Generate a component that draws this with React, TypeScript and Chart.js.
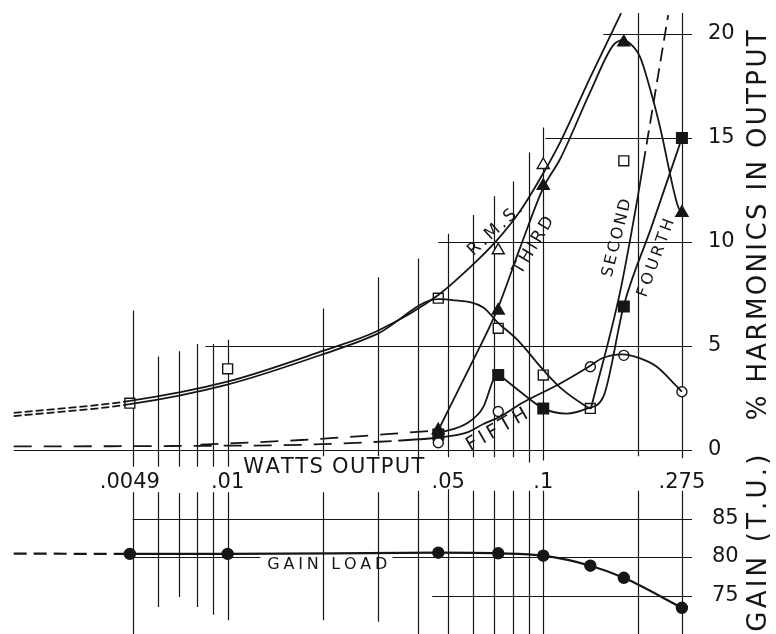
import React, { useEffect, useRef } from 'react';
import { Chart, registerables } from 'chart.js';
Chart.register(...registerables);

const FONT = '"DejaVu Sans", "Liberation Sans", sans-serif';
const INK = '#161616';

// ---- axes ----
const wattMin = 0.0019;
const wattMax = 0.296;
const wattTicks = [0.0049, 0.01, 0.05, 0.1, 0.275];
const wattTickLabels = ['.0049', '.01', '.05', '.1', '.275'];
const harmonicTicks = [0, 5, 10, 15, 20];
const gainTicks = [75, 80, 85];

// ---- measured points (watts output) ----
const markW = [0.0049, 0.01, 0.0465, 0.072, 0.1, 0.141, 0.18, 0.275];
const secondMarks = [2.25, 3.9, 7.3, 5.85, 3.6, 2.0, 13.9, null];
const thirdMarks = [null, null, 0.95, 6.7, 12.7, null, 19.6, 11.4];
const fourthMarks = [null, null, 0.75, 3.6, 2.0, null, 6.9, 15.0];
const fifthMarks = [null, null, 0.35, 1.85, null, 4.0, 4.55, 2.8];
const rmsMarks = [null, null, null, 9.6, 13.7, null, null, null];
const gainMarks = [80.4, 80.4, 80.56, 80.48, 80.17, 78.87, 77.3, 73.4];

// ---- faired curves ----
const rmsCurveW = [0.0021, 0.0049, 0.0099, 0.02, 0.0298, 0.0465, 0.0588, 0.0715, 0.0846, 0.1, 0.1132, 0.1408, 0.1765];
const rmsCurveV = [1.78, 2.36, 3.27, 4.76, 5.72, 7.45, 8.8, 10.1, 11.5, 13.3, 14.8, 17.9, 21.0];

const secondFallW = [0.0021, 0.0049, 0.0099, 0.02, 0.0298, 0.0465, 0.051, 0.0646, 0.0715, 0.0827, 0.1, 0.1132, 0.1378, 0.1415];
const secondFallV = [1.63, 2.2, 3.13, 4.6, 5.58, 7.25, 7.22, 6.85, 6.15, 5.3, 3.85, 3.0, 2.07, 1.98];
const secondRiseW = [0.1415, 0.1752, 0.1984, 0.2072, 0.2488];
const secondRiseV = [1.98, 7.6, 12.0, 13.7, 20.9];

const thirdTailW = [0.0082, 0.0171, 0.0347, 0.0465];
const thirdTailV = [0.26, 0.48, 0.8, 0.95];
const thirdCurveW = [0.0465, 0.0579, 0.0715, 0.0846, 0.1, 0.1132, 0.1408, 0.1665, 0.1795, 0.1925, 0.2026, 0.2213, 0.2346, 0.2673, 0.275];
const thirdCurveV = [0.95, 3.85, 6.75, 9.75, 12.6, 14.0, 17.2, 19.45, 19.7, 19.4, 18.9, 17.0, 15.5, 11.7, 11.4];

const fourthRiseW = [0.0465, 0.0575, 0.0646, 0.0695, 0.072];
const fourthRiseV = [0.82, 1.3, 2.07, 3.37, 3.65];
const fourthFallW = [0.072, 0.0846, 0.1, 0.1185, 0.138, 0.1549, 0.18, 0.22, 0.275];
const fourthFallV = [3.65, 2.8, 2.0, 1.75, 2.0, 2.55, 6.95, 10.7, 15.0];

const fifthCurveW = [0.0021, 0.0082, 0.0171, 0.0347, 0.0465, 0.0575, 0.0646, 0.073, 0.0857, 0.1132, 0.141, 0.153, 0.178, 0.203, 0.229, 0.252, 0.275];
const fifthCurveV = [0.17, 0.2, 0.25, 0.45, 0.6, 0.85, 1.25, 1.6, 2.26, 3.2, 4.05, 4.4, 4.6, 4.4, 4.0, 3.4, 2.8];

const gainCurveW = [0.0021, 0.0049, 0.01, 0.0465, 0.072, 0.1, 0.141, 0.18, 0.275];
const gainCurveV = [80.45, 80.4, 80.4, 80.56, 80.48, 80.17, 78.87, 77.3, 73.4];

// ---- hand-drawn grid (data units: [x, yFrom, yTo] and [y, xFrom, xTo]) ----
const upperVGrid = [
  [0.005, -0.8, 6.7], [0.006, -0.8, 4.5], [0.007, -0.8, 4.75], [0.008, -0.8, 5.1],
  [0.009, -0.8, 5.1], [0.01, -0.8, 5.3], [0.02, -0.3, 6.8], [0.03, -0.3, 8.3],
  [0.04, -0.35, 9.2], [0.05, -0.35, 10.4], [0.06, -0.35, 11.3], [0.07, -0.35, 12.2],
  [0.08, -0.35, 12.9], [0.09, -0.6, 14.3], [0.1, -0.5, 15.5], [0.2, -0.3, 21.0], [0.275, -0.4, 21.0],
];
const upperHGrid = [
  [0, 0.0021, wattMax], [5, 0.0085, wattMax], [10, 0.0465, wattMax], [15, 0.1015, wattMax], [20, 0.155, wattMax],
];
const lowerVGrid = [
  [0.005, 70, 88.4], [0.006, 73.5, 88.4], [0.007, 74.8, 88.3], [0.008, 73.5, 88.4],
  [0.009, 72.5, 88.4], [0.01, 71.8, 88.4], [0.02, 71.8, 88.4], [0.03, 71.6, 88.4],
  [0.04, 70, 88.6], [0.05, 70, 88.8], [0.06, 70, 88.6], [0.07, 70, 88.6], [0.08, 70, 88.6],
  [0.09, 70, 88.6], [0.1, 70, 88.6], [0.2, 70, 88.6], [0.275, 70, 88.6],
];
const lowerHGrid = [
  [85, 0.005, wattMax], [80, 0.005, 0.0127], [80, 0.0333, wattMax], [75, 0.0445, wattMax],
];

const pts = (w: number[], v: (number | null)[]) =>
  w.map((x, i) => ({ x, y: v[i] })).filter((p) => p.y !== null) as { x: number; y: number }[];

function drawSpaced(ctx: CanvasRenderingContext2D, text: string, cx: number, cy: number, angle: number, size: number, length: number) {
  ctx.save();
  ctx.font = `${size}px ${FONT}`;
  ctx.fillStyle = INK;
  ctx.translate(cx, cy);
  ctx.rotate((angle * Math.PI) / 180);
  const chars = [...text];
  const widths = chars.map((c) => ctx.measureText(c).width);
  const natural = widths.reduce((a, b) => a + b, 0);
  const gap = chars.length > 1 ? (length - natural) / (chars.length - 1) : 0;
  let x = -length / 2;
  ctx.textBaseline = 'middle';
  ctx.textAlign = 'left';
  chars.forEach((c, i) => {
    ctx.fillText(c, x, 0);
    x += widths[i] + gap;
  });
  ctx.restore();
}

type Lbl = { text: string; x: number; y: number; angle: number; size: number; length: number };
type Ttl = { text: string; dx: number; y: number; size: number; length: number };

function makeDrafting(vGrid: number[][], hGrid: number[][], labels: Lbl[], titles: Ttl[]) {
  return {
    id: 'drafting',
    beforeDatasetsDraw(chart: any) {
      const ctx = chart.ctx as CanvasRenderingContext2D;
      const xs = chart.scales.x;
      const ys = chart.scales.y;
      ctx.save();
      ctx.strokeStyle = INK;
      ctx.lineWidth = 1.2;
      ctx.beginPath();
      for (const [x, y0, y1] of vGrid) {
        const px = Math.round(xs.getPixelForValue(x)) + 0.5;
        ctx.moveTo(px, ys.getPixelForValue(y0));
        ctx.lineTo(px, ys.getPixelForValue(y1));
      }
      for (const [y, x0, x1] of hGrid) {
        const py = Math.round(ys.getPixelForValue(y)) + 0.5;
        ctx.moveTo(xs.getPixelForValue(x0), py);
        ctx.lineTo(xs.getPixelForValue(x1), py);
      }
      ctx.stroke();
      ctx.restore();
    },
    afterDatasetsDraw(chart: any) {
      const ctx = chart.ctx as CanvasRenderingContext2D;
      const xs = chart.scales.x;
      const ys = chart.scales.y;
      for (const l of labels) {
        drawSpaced(ctx, l.text, xs.getPixelForValue(l.x), ys.getPixelForValue(l.y), l.angle, l.size, l.length);
      }
      for (const t of titles) {
        drawSpaced(ctx, t.text, chart.chartArea.right + t.dx, ys.getPixelForValue(t.y), -90, t.size, t.length);
      }
    },
  };
}

const curve = (data: any[], width: number, dash?: ((a: number, b: number) => number[] | undefined) | number[]) => ({
  data,
  showLine: true,
  borderColor: INK,
  borderWidth: width,
  borderDash: Array.isArray(dash) ? dash : [],
  pointRadius: 0,
  pointHoverRadius: 0,
  cubicInterpolationMode: 'monotone' as const,
  fill: false,
  segment:
    typeof dash === 'function' ? { borderDash: (c: any) => dash(c.p0.parsed.x, c.p1.parsed.x) } : undefined,
});

const marks = (data: any[], style: string, filled: boolean, radius: number) => ({
  data,
  showLine: false,
  pointStyle: style,
  pointRadius: radius,
  pointHoverRadius: radius,
  pointBackgroundColor: filled ? INK : '#ffffff',
  pointBorderColor: INK,
  pointBorderWidth: 1.4,
  borderColor: INK,
});

const noPad = (axis: any) => {
  axis.paddingTop = 0;
  axis.paddingBottom = 0;
  axis.paddingLeft = 0;
  axis.paddingRight = 0;
};

export default function App() {
  const topRef = useRef<HTMLCanvasElement>(null);
  const botRef = useRef<HTMLCanvasElement>(null);

  useEffect(() => {
    const xScale = (showLabels: boolean) => ({
      type: 'logarithmic' as const,
      min: wattMin,
      max: wattMax,
      bounds: 'data' as const,
      display: showLabels,
      grid: { display: false },
      border: { display: false },
      afterBuildTicks: (axis: any) => {
        axis.ticks = wattTicks.map((value) => ({ value }));
      },
      afterFit: (axis: any) => {
        axis.height = showLabels ? 45 : 0;
        noPad(axis);
      },
      ticks: {
        autoSkip: false,
        maxRotation: 0,
        minRotation: 0,
        padding: 12,
        color: INK,
        font: { family: FONT, size: 21 },
        callback: (_v: any, i: number) => wattTickLabels[i],
      },
    });

    const yScale = (min: number, max: number, ticks: number[], pad: number) => ({
      type: 'linear' as const,
      position: 'right' as const,
      min,
      max,
      bounds: 'data' as const,
      grid: { display: false },
      border: { display: false },
      afterBuildTicks: (axis: any) => {
        axis.ticks = ticks.map((value) => ({ value }));
      },
      afterFit: (axis: any) => {
        axis.width = 84;
        noPad(axis);
      },
      ticks: { padding: pad, color: INK, font: { family: FONT, size: 21 } },
    });

    const upper = new Chart(topRef.current!, {
      type: 'line',
      data: {
        datasets: [
          curve(pts(rmsCurveW, rmsCurveV), 1.8, (a, b) => (b <= 0.0049 + 1e-9 ? [8, 3] : undefined)),
          curve(pts(secondFallW, secondFallV), 1.8, (a, b) => (b <= 0.0049 + 1e-9 ? [8, 3] : undefined)),
          curve(pts(secondRiseW, secondRiseV), 1.8, (a, b) => (a >= 0.2072 - 1e-9 ? [14, 7] : undefined)),
          curve(pts(thirdTailW, thirdTailV), 1.8, [18, 12]),
          curve(pts(thirdCurveW, thirdCurveV), 1.8),
          curve(pts(fourthRiseW, fourthRiseV), 1.8),
          curve(pts(fourthFallW, fourthFallV), 1.8),
          curve(pts(fifthCurveW, fifthCurveV), 1.8, (a, b) => (b <= 0.0347 + 1e-9 ? [18, 12] : undefined)),
          marks(pts(markW, secondMarks), 'rect', false, 7),
          marks(pts(markW, rmsMarks), 'triangle', false, 7),
          marks(pts(markW, fifthMarks), 'circle', false, 5),
          marks(pts(markW, fourthMarks), 'rect', true, 7.5),
          marks(pts(markW, thirdMarks), 'triangle', true, 7),
        ] as any,
      },
      options: {
        responsive: false,
        animation: false,
        devicePixelRatio: 1,
        layout: { padding: 0, autoPadding: false },
        plugins: { legend: { display: false }, tooltip: { enabled: false } },
        scales: {
          x: xScale(true) as any,
          y: yScale(0, 21.63, harmonicTicks, 8) as any,
        },
      },
      plugins: [
        makeDrafting(
          upperVGrid,
          upperHGrid,
          [
            { text: 'WATTS OUTPUT', x: 0.0217, y: -0.85, angle: 0, size: 21, length: 181 },
            { text: 'R.M.S.', x: 0.0705, y: 10.58, angle: -42.6, size: 17, length: 68 },
            { text: 'THIRD', x: 0.0933, y: 9.83, angle: -59, size: 17, length: 64 },
            { text: 'SECOND', x: 0.1714, y: 10.19, angle: -76, size: 16, length: 80 },
            { text: 'FOURTH', x: 0.2278, y: 9.23, angle: -70, size: 16, length: 82 },
            { text: 'FIFTH', x: 0.0715, y: 0.96, angle: -30, size: 19, length: 68 },
          ],
          [{ text: '% HARMONICS IN OUTPUT', dx: 67, y: 10.8, size: 26, length: 390 }]
        ) as any,
      ],
    });

    const lower = new Chart(botRef.current!, {
      type: 'line',
      data: {
        datasets: [
          curve(pts(gainCurveW, gainCurveV), 2.2, (a, b) => (b <= 0.0049 + 1e-9 ? [13, 7] : undefined)),
          marks(pts(markW, gainMarks), 'circle', true, 5.5),
        ] as any,
      },
      options: {
        responsive: false,
        animation: false,
        devicePixelRatio: 1,
        layout: { padding: { top: 30, bottom: 0, left: 0, right: 0 }, autoPadding: false },
        plugins: { legend: { display: false }, tooltip: { enabled: false } },
        scales: {
          x: xScale(false) as any,
          y: yScale(70, 90, gainTicks, 12) as any,
        },
      },
      plugins: [
        makeDrafting(
          lowerVGrid,
          lowerHGrid,
          [{ text: 'GAIN LOAD', x: 0.0207, y: 79.0, angle: 0, size: 16, length: 120 }],
          [{ text: 'GAIN (T.U.)', dx: 67, y: 81.8, size: 26, length: 177 }]
        ) as any,
      ],
    });

    return () => {
      upper.destroy();
      lower.destroy();
    };
  }, []);

  return (
    <div style={{ position: 'fixed', left: 0, top: 0, width: 776, height: 634, background: '#ffffff', overflow: 'hidden' }}>
      <canvas ref={topRef} width={776} height={495} style={{ position: 'absolute', left: 0, top: 0, width: 776, height: 495 }} />
      <canvas ref={botRef} width={776} height={184} style={{ position: 'absolute', left: 0, top: 450, width: 776, height: 184 }} />
    </div>
  );
}
